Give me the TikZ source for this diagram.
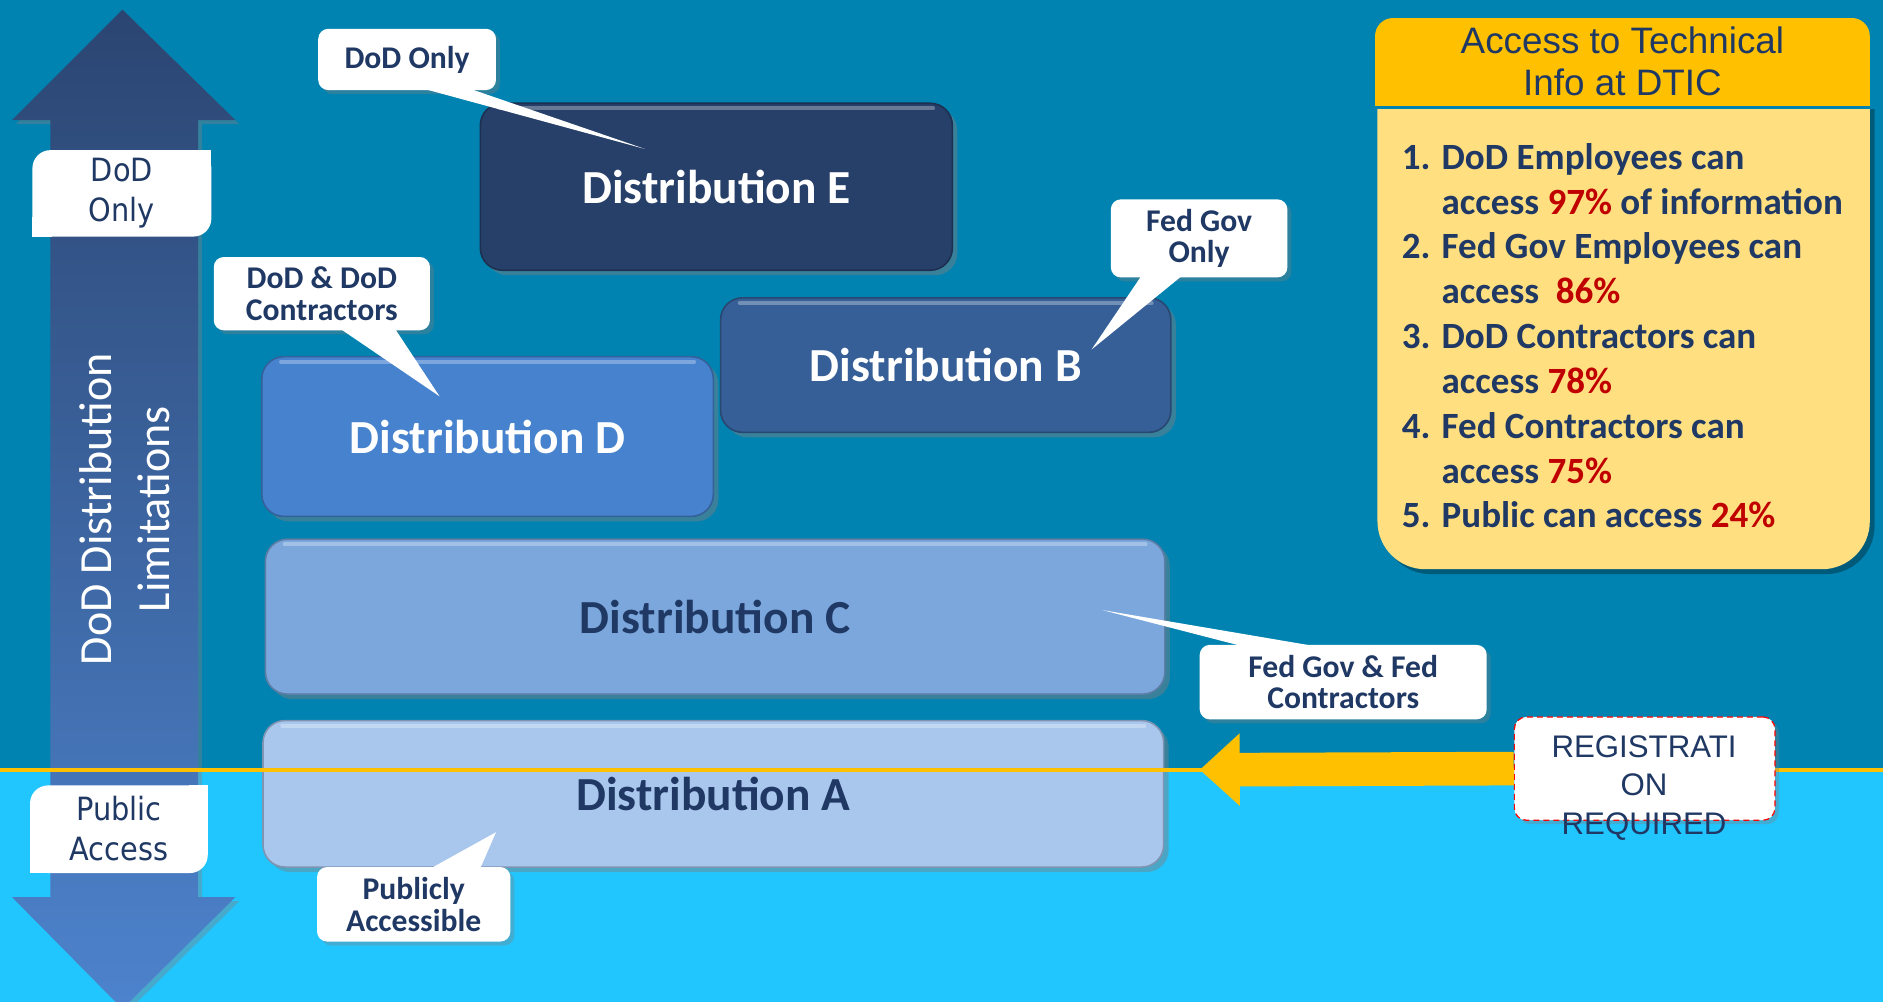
\documentclass[tikz,border=0pt]{standalone}
\usepackage{fontspec}
\setmainfont{Carlito}
\newfontfamily\arialfont{Liberation Sans}
\newfontfamily\sidefont[FakeStretch=0.9]{DejaVu Sans}
\usetikzlibrary{positioning,calc,shadows,arrows.meta}
\definecolor{bgtop}{HTML}{0083B1}
\definecolor{bgbot}{HTML}{21C6FF}
\definecolor{navy}{HTML}{1F3864}
\definecolor{colE}{HTML}{27406A}
\definecolor{colB}{HTML}{365F97}
\definecolor{colD}{HTML}{4682CD}
\definecolor{colC}{HTML}{7BA7DC}
\definecolor{colA}{HTML}{A9C6ED}
\definecolor{gold}{HTML}{FFC000}
\definecolor{paleGold}{HTML}{FFDF80}
\definecolor{pctred}{HTML}{C00000}
\definecolor{arrowtop}{HTML}{2B4571}
\definecolor{arrowbot}{HTML}{4D83CD}
\begin{document}
\begin{tikzpicture}[x=0.6pt,y=-0.6pt,
  distbox/.style={inner sep=0pt, rounded corners=11pt, draw=#1!75!black, line width=0.8pt, fill=#1,
    drop shadow={shadow xshift=2.5pt, shadow yshift=-2.5pt, opacity=0.45},
    font=\fontsize{23.7}{26}\selectfont\bfseries},
  callout/.style={fill=white, rounded corners=5pt, inner sep=0pt, align=center, text=navy,
    drop shadow={shadow xshift=2pt, shadow yshift=-2pt, opacity=0.35},
    font=\fontsize{15.8}{15.8}\selectfont\bfseries},
  sidetext/.style={text=navy, align=center, font=\sidefont\fontsize{16}{19.8}\selectfont}]
\useasboundingbox (0,0) rectangle (1568,834);
% background
\fill[bgtop] (0,0) rectangle (1568,641);
\fill[bgbot] (0,641) rectangle (1568,834);
% big double arrow
\shade[top color=arrowtop, bottom color=arrowbot, drop shadow={shadow xshift=2pt, shadow yshift=-2pt, opacity=0.4}]
  (102,8) -- (196,100) -- (165,100) -- (165,747) -- (196,747) -- (102,840)
  -- (10,747) -- (42,747) -- (42,100) -- (10,100) -- cycle;
\node[rotate=90, text=white, align=center, font=\fontsize{23}{28.8}\selectfont] (limits) at (104,424) {DoD Distribution\\Limitations};
% side labels
\fill[white, rounded corners=9pt] (27,125) rectangle (176,197);
\fill[white] (160,125) rectangle (176,141);
\fill[white] (27,181) rectangle (43,197);
\node[sidetext] (dodOnly) at (101.5,161) {DoD\\Only};
\fill[white, rounded corners=9pt] (25,654) rectangle (173,727);
\fill[white] (157,654) rectangle (173,670);
\fill[white] (25,711) rectangle (41,727);
\node[sidetext] (public) at (99,690) {Public\\Access};
% distribution levels
\node[distbox=colE, minimum width=235.8pt, minimum height=83.4pt, text=white] (distE) at (596.5,155.5) {Distribution E};
\node[distbox=colB, minimum width=225pt, minimum height=67.2pt, text=white] (distB) at (787.5,304) {Distribution B};
\node[distbox=colD, minimum width=225.6pt, minimum height=79.8pt, text=white] (distD) at (406,363.5) {Distribution D};
\node[distbox=colC, minimum width=449.4pt, minimum height=77.4pt, text=navy] (distC) at (595.5,513.5) {Distribution C};
\node[distbox=colA, minimum width=450pt, minimum height=73.2pt, text=navy] (distA) at (594,661) {Distribution A};
\foreach \n in {distE,distB,distD,distC,distA}
  \draw[white, opacity=0.3, line width=2pt, line cap=round] ([xshift=10pt,yshift=-3pt]\n.north west) -- ([xshift=-10pt,yshift=-3pt]\n.north east);
% public line
\draw[gold, line width=1.8pt] (0,641) -- (1568,641);
% callouts
\coordinate (tipE) at (537,124);
\coordinate (tipD) at (366,330);
\coordinate (tipB) at (909,291);
\coordinate (tipC) at (918,508);
\coordinate (tipA) at (413,693);
\node[callout, minimum width=88.8pt, minimum height=30.6pt] (calE) at (339,49.5) {DoD Only};
\fill[white] ($(calE.south west)+(86,-2)$) -- (tipE) -- ($(calE.south west)+(125,-2)$) -- cycle;
\node[callout, minimum width=108pt, minimum height=36.6pt] (calD) at (268,244.5) {DoD \& DoD\\Contractors};
\fill[white] ($(calD.south west)+(105,-2)$) -- (tipD) -- ($(calD.south west)+(151,-2)$) -- cycle;
\node[callout, minimum width=88.2pt, minimum height=39pt] (calB) at (998.5,198.5) {Fed Gov\\Only};
\fill[white] ($(calB.south west)+(26,-2)$) -- (tipB) -- ($(calB.south west)+(60,-2)$) -- cycle;
\node[callout, minimum width=143.4pt, minimum height=37.2pt] (calC) at (1118.5,568) {Fed Gov \& Fed\\Contractors};
\fill[white] ($(calC.north west)+(38,2)$) -- (tipC) -- ($(calC.north west)+(100,2)$) -- cycle;
\node[callout, minimum width=96.6pt, minimum height=37.2pt] (calA) at (344.5,753) {Publicly\\Accessible};
\fill[white] ($(calA.north west)+(94,2)$) -- (tipA) -- ($(calA.north west)+(136,2)$) -- cycle;
% info panel
\begin{scope}
  \clip (1140,10) rectangle (1565,88);
  \fill[gold, rounded corners=9pt] (1145,15) rectangle (1557,130);
\end{scope}
\begin{scope}
  \clip (1140,91) rectangle (1570,485);
  \fill[black, opacity=0.3, rounded corners=24pt] (1151,40) rectangle (1561,478);
  \fill[paleGold, rounded corners=24pt] (1147,40) rectangle (1557,474);
\end{scope}
\node[text=navy, align=center, font=\arialfont\fontsize{18.4}{21}\selectfont] (infoHead) at (1351,51) {Access to Technical\\Info at DTIC};
\node[anchor=north west, inner sep=0pt, align=left, text=navy, font=\fontsize{18.5}{22.4}\selectfont\bfseries] (infoBody) at (1167,119)
  {1. DoD Employees can\\
   \hphantom{1. }access \textcolor{pctred}{97\%} of information\\
   2. Fed Gov Employees can\\
   \hphantom{2. }access\ \ \textcolor{pctred}{86\%}\\
   3. DoD Contractors can\\
   \hphantom{3. }access \textcolor{pctred}{78\%}\\
   4. Fed Contractors can\\
   \hphantom{4. }access \textcolor{pctred}{75\%}\\
   5. Public can access \textcolor{pctred}{24\%}};
% registration
\node[minimum width=130.2pt, minimum height=51.6pt, inner sep=0pt, fill=white, draw=red, densely dashed, line width=0.6pt,
  rounded corners=6pt, drop shadow={shadow xshift=2pt, shadow yshift=-2pt, opacity=0.35}] (reg) at (1369.5,640) {};
\coordinate (regTip) at (999,641);
\draw[gold, line width=16.8pt, -{Triangle[length=20pt,width=35pt]}] (reg.west) -- (regTip);
\node[text=navy, align=center, font=\arialfont\fontsize{15.6}{19.2}\selectfont] (regText) at (1369,656) {REGISTRATI\\ON\\REQUIRED};
\end{tikzpicture}
\end{document}
